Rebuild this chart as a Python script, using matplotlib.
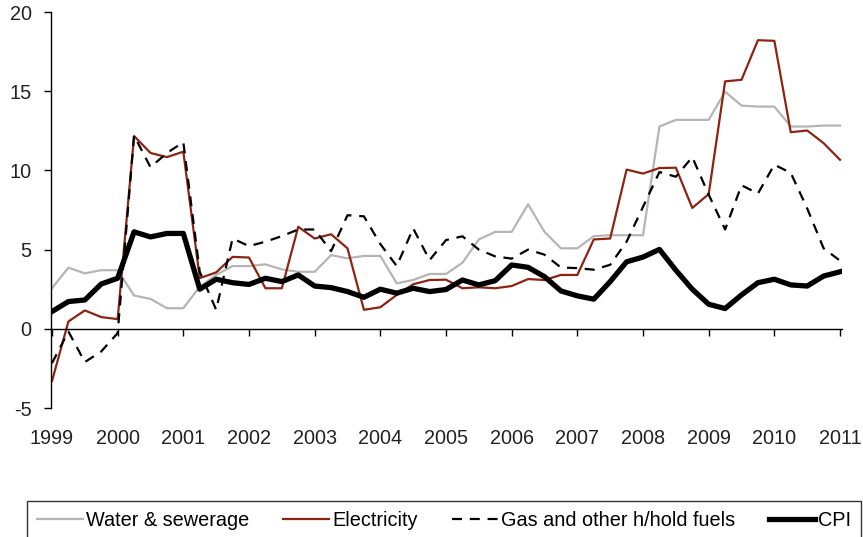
import matplotlib
matplotlib.use("Agg")
import matplotlib.pyplot as plt
import pandas as pd

plt.rcParams['font.family'] = ['Liberation Sans', 'DejaVu Sans']
plt.rcParams['axes.unicode_minus'] = False

quarters = pd.period_range('1999Q1', '2011Q1', freq='Q')
x = [q.year + (q.quarter - 1) / 4 for q in quarters]

water = [2.56, 3.86, 3.5, 3.7, 3.7, 2.1, 1.89, 1.3, 1.3, 2.66, 3.4, 3.96, 3.96,
         4.07, 3.75, 3.6, 3.6, 4.65, 4.45, 4.6, 4.6, 2.87, 3.08, 3.46, 3.46,
         4.17, 5.64, 6.12, 6.12, 7.86, 6.12, 5.08, 5.08, 5.85, 5.91, 5.91, 5.91,
         12.77, 13.19, 13.19, 13.19, 14.97, 14.09, 14.03, 14.03, 12.77, 12.77, 12.83, 12.83]
electricity = [-3.3, 0.46, 1.16, 0.74, 0.61, 12.17, 11.1, 10.84, 11.18, 3.2, 3.56, 4.54, 4.5,
               2.56, 2.56, 6.44, 5.7, 5.97, 5.08, 1.2, 1.36, 2.14, 2.81, 3.08, 3.1,
               2.56, 2.62, 2.56, 2.7, 3.14, 3.08, 3.4, 3.4, 5.64, 5.7, 10.05, 9.8,
               10.15, 10.17, 7.63, 8.5, 15.62, 15.72, 18.22, 18.18, 12.41, 12.52, 11.72, 10.67]
gas = [-2.17, -0.17, -2.1, -1.43, -0.27, 12.2, 10.2, 11.1, 11.78, 3.6, 1.2, 5.7, 5.22,
       5.5, 5.85, 6.27, 6.27, 4.9, 7.17, 7.1, 5.35, 3.96, 6.34, 4.34, 5.6,
       5.84, 5.0, 4.57, 4.43, 5.0, 4.68, 3.87, 3.83, 3.73, 4.04, 5.5, 7.7,
       9.9, 9.6, 10.84, 8.47, 6.27, 9.06, 8.54, 10.36, 9.84, 7.6, 5.08, 4.3]
cpi = [1.09, 1.72, 1.82, 2.83, 3.19, 6.12, 5.8, 6.02, 6.02, 2.5, 3.13, 2.91, 2.8,
       3.19, 2.98, 3.4, 2.7, 2.6, 2.35, 1.99, 2.5, 2.25, 2.56, 2.35, 2.48,
       3.08, 2.77, 3.04, 4.03, 3.88, 3.29, 2.39, 2.08, 1.87, 2.98, 4.23, 4.53,
       5.01, 3.7, 2.5, 1.55, 1.28, 2.14, 2.91, 3.13, 2.77, 2.7, 3.33, 3.6]
year_ticks = list(range(1999, 2012))
y_ticks = [-5, 0, 5, 10, 15, 20]

fig = plt.figure(figsize=(8.63, 5.37), dpi=100)
ax = fig.add_axes([51 / 863, 129 / 537, 791 / 863, 396 / 537])

ax.plot(x, water, color='#b5b5b5', lw=1.6, label='Water & sewerage')
ax.plot(x, electricity, color='#8c2414', lw=1.6, label='Electricity')
ax.plot(x, gas, color='black', lw=1.6, ls=(0, (4.5, 3.5)), label='Gas and other h/hold fuels')
ax.plot(x, cpi, color='black', lw=3.8, label='CPI')

ax.set_xlim(1998.985, 2011.03)
ax.set_ylim(-5, 20)
ax.set_yticks(y_ticks)
ax.set_xticks(year_ticks)
ax.set_xticklabels([str(y) for y in year_ticks])

for s in ['top', 'right']:
    ax.spines[s].set_visible(False)
ax.spines['bottom'].set_position(('data', 0))
ax.spines['bottom'].set_linewidth(1.0)
ax.spines['left'].set_linewidth(1.0)

ax.tick_params(axis='y', direction='out', length=5, width=1, pad=9,
               labelsize=14.3, labelcolor='#222222')
ax.tick_params(axis='x', direction='out', length=5, width=1, pad=67,
               labelsize=14.3, labelcolor='#222222')

fig.legend(loc='upper left', bbox_to_anchor=(27 / 863, 1 - 501 / 537, 834 / 863, 0),
           mode='expand', ncol=4, fontsize=14.3, frameon=True, fancybox=False,
           edgecolor='black', handlelength=2.3, handletextpad=0.15,
           borderpad=0.5, borderaxespad=0)
fig.legends[0].get_frame().set_linewidth(1.0)

fig.savefig('out.png', dpi=100)
